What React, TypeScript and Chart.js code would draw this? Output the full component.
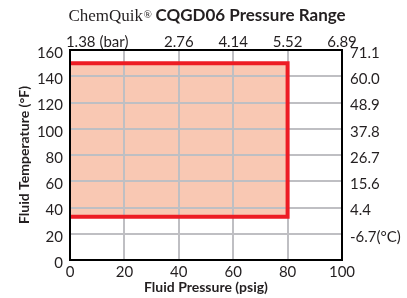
import React, { useEffect, useRef } from "react";
import { Chart, registerables } from "chart.js";

Chart.register(...registerables);

// ---- data ----
const psiMin = 0;
const psiMax = 100;
const psiStep = 20;
const barTickPsi = [20, 40, 60, 80, 100];
const barLabels = ["1.38 (bar)", "2.76", "4.14", "5.52", "6.89"];
const tempMinF = 0;
const tempMaxF = 160;
const tempStepF = 20;
const fahrenheitTicks = [0, 20, 40, 60, 80, 100, 120, 140, 160];
const celsiusLabels = ["", "-6.7(°C)", "4.4", "15.6", "26.7", "37.8", "48.9", "60.0", "71.1"];
const rangePsi = [0, 80];
const rangeTempF = [33, 150];

const RED = "#ed1c24";
const PEACH = "#f9c8b3";
const GRID = "#bfbfc3";
const TEXT = "#231f20";
const FONT = "Lato";

export default function App() {
  const ref = useRef<HTMLCanvasElement | null>(null);

  useEffect(() => {
    if (!ref.current) return;

    const overlay = {
      id: "overlay",
      afterDraw(chart: any) {
        const ctx = chart.ctx as CanvasRenderingContext2D;
        const area = chart.chartArea;
        const xs = chart.scales.x;
        // plot frame
        ctx.save();
        ctx.strokeStyle = "#000";
        ctx.lineWidth = 2;
        ctx.strokeRect(area.left, area.top, area.right - area.left, area.bottom - area.top);
        ctx.restore();
        // top (bar) labels placed through the psi scale
        ctx.save();
        ctx.fillStyle = TEXT;
        ctx.font = `15px ${FONT}`;
        ctx.textBaseline = "alphabetic";
        barTickPsi.forEach((v, i) => {
          const px = xs.getPixelForValue(v);
          if (i === 0) {
            ctx.textAlign = "right";
            ctx.fillText(barLabels[i], px + 4, 47);
          } else {
            ctx.textAlign = "center";
            ctx.fillText(barLabels[i], px, 47);
          }
        });
        ctx.restore();
        // mixed-font title
        ctx.save();
        ctx.fillStyle = TEXT;
        ctx.textBaseline = "alphabetic";
        ctx.textAlign = "left";
        const p1 = "ChemQuik";
        const p2 = "®";
        const p3 = " CQGD06 Pressure Range";
        const f1 = `17px "Liberation Serif"`;
        const f2 = `11px "Liberation Serif"`;
        const f3 = `bold 17px ${FONT}`;
        ctx.font = f1;
        const w1 = ctx.measureText(p1).width;
        ctx.font = f2;
        const w2 = ctx.measureText(p2).width;
        ctx.font = f3;
        const w3 = ctx.measureText(p3).width;
        let x = 207 - (w1 + w2 + w3) / 2;
        const base = 21;
        ctx.font = f1;
        ctx.fillText(p1, x, base);
        x += w1;
        ctx.font = f2;
        ctx.fillText(p2, x + 0.5, base - 3);
        x += w2;
        ctx.font = f3;
        ctx.fillText(p3, x, base);
        ctx.restore();
      },
    };

    const chart = new Chart(ref.current, {
      type: "scatter",
      data: {
        datasets: [
          {
            data: [
              { x: rangePsi[0], y: rangeTempF[1] },
              { x: rangePsi[1], y: rangeTempF[1] },
            ],
            showLine: true,
            fill: { value: rangeTempF[0] },
            backgroundColor: PEACH,
            borderWidth: 0,
            pointRadius: 0,
          },
          {
            data: [
              { x: rangePsi[0], y: rangeTempF[1] },
              { x: rangePsi[1], y: rangeTempF[1] },
              { x: rangePsi[1], y: rangeTempF[0] },
              { x: rangePsi[0], y: rangeTempF[0] },
            ],
            showLine: true,
            fill: false,
            borderColor: RED,
            borderWidth: 4,
            borderJoinStyle: "miter",
            borderCapStyle: "butt",
            pointRadius: 0,
            tension: 0,
          },
        ],
      },
      options: {
        responsive: false,
        animation: false,
        devicePixelRatio: 1,
        layout: { padding: { top: 50, left: 0, right: 0, bottom: 0 } },
        plugins: {
          legend: { display: false },
          tooltip: { enabled: false },
          title: { display: false },
          filler: { drawTime: "beforeDraw" },
        },
        scales: {
          x: {
            type: "linear",
            position: "bottom",
            min: psiMin,
            max: psiMax,
            afterFit: (s: any) => {
              s.height = 38;
            },
            grid: { color: GRID, lineWidth: 2, drawTicks: false },
            border: { display: false },
            ticks: {
              stepSize: psiStep,
              color: TEXT,
              font: { family: FONT, size: 15 },
              padding: 3,
              maxRotation: 0,
              autoSkip: false,
            },
            title: {
              display: true,
              text: "Fluid Pressure (psig)",
              color: TEXT,
              font: { family: FONT, size: 14, weight: "bold" },
              padding: { top: 0, bottom: 2 },
            },
          },
          y: {
            type: "linear",
            position: "left",
            min: tempMinF,
            max: tempMaxF,
            afterFit: (s: any) => {
              s.width = 70;
            },
            grid: { color: GRID, lineWidth: 2, drawTicks: false },
            border: { display: false },
            ticks: {
              stepSize: tempStepF,
              color: TEXT,
              font: { family: FONT, size: 15 },
              padding: 7,
              labelOffset: 3,
              autoSkip: false,
            },
            title: {
              display: true,
              text: "Fluid Temperature (°F)",
              color: TEXT,
              font: { family: FONT, size: 14, weight: "bold" },
              padding: { top: 16, bottom: 0 },
            },
          },
          y2: {
            type: "linear",
            position: "right",
            min: tempMinF,
            max: tempMaxF,
            afterFit: (s: any) => {
              s.width = 65;
            },
            grid: { display: false, drawTicks: false },
            border: { display: false },
            ticks: {
              stepSize: tempStepF,
              color: TEXT,
              font: { family: FONT, size: 15 },
              padding: 8,
              labelOffset: 3,
              autoSkip: false,
              callback: (v: any) => {
                const i = fahrenheitTicks.indexOf(Number(v));
                return i >= 0 ? celsiusLabels[i] : "";
              },
            },
          },
        },
      },
      plugins: [overlay],
    } as any);

    return () => chart.destroy();
  }, []);

  return (
    <div style={{ position: "absolute", left: 0, top: 0, width: 407, height: 298, background: "#fff" }}>
      <canvas ref={ref} width={407} height={298} style={{ width: 407, height: 298, display: "block" }} />
    </div>
  );
}
